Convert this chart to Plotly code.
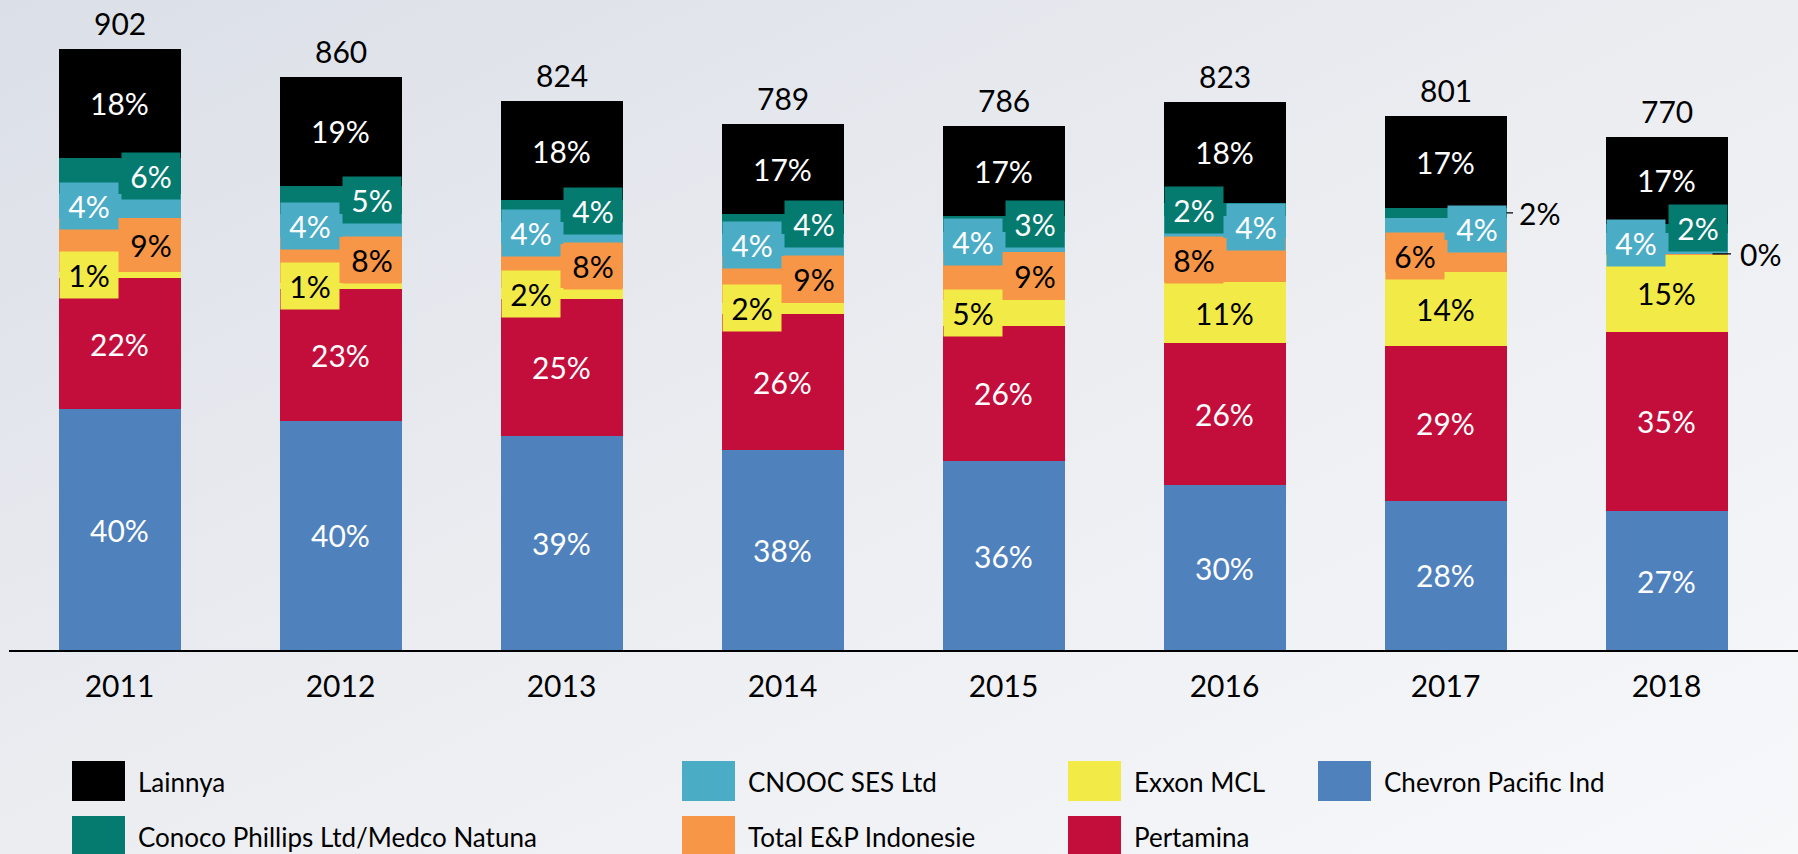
import base64
import plotly.graph_objects as go

# ---------------- data ----------------
years = ["2011", "2012", "2013", "2014", "2015", "2016", "2017", "2018"]
chevron = [361, 344, 321, 300, 283, 247, 224, 208]
pertamina = [198, 198, 206, 205, 204, 214, 232, 270]
exxon = [9, 9, 16, 16, 39, 91, 112, 116]
total_ep = [81, 69, 66, 71, 71, 66, 48, 1]
cnooc = [36, 34, 33, 32, 31, 33, 32, 31]
conoco = [54, 43, 33, 31, 24, 20, 16, 14]
lainnya = [163, 163, 149, 134, 134, 152, 137, 130]

series_names = ["Chevron Pacific Ind", "Pertamina", "Exxon MCL", "Total E&P Indonesie",
                "CNOOC SES Ltd", "Conoco Phillips Ltd/Medco Natuna", "Lainnya"]
series_values = [chevron, pertamina, exxon, total_ep, cnooc, conoco, lainnya]

# ---------------- style ----------------
colors = ["#4F81BD", "#C30E3C", "#F2EB47", "#F79646", "#4BACC6", "#057A6F", "#000000"]
text_colors = ["white", "white", "black", "black", "white", "white", "white"]
# label placement per series per year: c=centered, L=left box, R=right box, O=outside w/ leader
placement = [
    ["c"] * 8,
    ["c"] * 8,
    ["L", "L", "L", "L", "L", "c", "c", "c"],
    ["R", "R", "R", "R", "R", "L", "L", "O"],
    ["L", "L", "L", "L", "L", "R", "R", "L"],
    ["R", "R", "R", "R", "R", "L", "O", "R"],
    ["c"] * 8,
]
FONT = "Lato, 'Open Sans', sans-serif"
W, H = 1798, 854
ML, MR, MT, MB = 9, 0, 17, 204
PW, PH = W - ML - MR, H - MT - MB
CAT_PX = 221.0
BARGAP = 0.448
YMAX = PH / 0.6663

def px_x(px):
    return (px - ML) / PW

def px_y(py):
    return (H - MB - py) / PH

fig = go.Figure()
for name, vals, col in zip(series_names, series_values, colors):
    fig.add_trace(go.Bar(x=years, y=vals, name=name, marker=dict(color=col, line=dict(width=0)),
                         hovertemplate="%{x}: %{y}<extra>" + name + "</extra>"))

totals = [sum(s[i] for s in series_values) for i in range(len(years))]
annotations = []
half_bar = (1 - BARGAP) / 2
for i, yr in enumerate(years):
    base = 0
    T = totals[i]
    for s, vals in enumerate(series_values):
        v = vals[i]
        yc = base + v / 2
        base += v
        pct = f"{int(v / T * 100 + 0.5)}%"
        mode = placement[s][i]
        fnt = dict(family=FONT, size=30, color=text_colors[s])
        if mode == "c":
            annotations.append(dict(x=i, y=yc, text=pct, showarrow=False, font=fnt,
                                    xref="x", yref="y"))
        elif mode in ("L", "R"):
            annotations.append(dict(x=i, y=yc, text=pct, showarrow=False, font=fnt,
                                    xref="x", yref="y", bgcolor=colors[s],
                                    width=54, height=42, borderpad=2,
                                    xshift=-31 if mode == "L" else 31))
        else:
            shift = -15 if s == 3 else 0
            pad = 8 if s == 3 else 5
            annotations.append(dict(x=i + half_bar, y=yc, text=pct, showarrow=True,
                                    arrowhead=0, arrowwidth=1.2, arrowcolor="black",
                                    ax=32.5 - shift, ay=0, xshift=shift, borderpad=pad,
                                    font=dict(family=FONT, size=30, color="black"),
                                    xref="x", yref="y"))
    annotations.append(dict(x=i, y=T, text=str(T), showarrow=False, yshift=26,
                            font=dict(family=FONT, size=30, color="black"),
                            xref="x", yref="y"))

# custom legend (2 rows x 4 columns, column-major, top of stack first)
legend_order = [6, 5, 4, 3, 2, 1, 0]
col_left = [72, 682, 1068, 1318]
row_top = [761, 816]
shapes = []
for k, s in enumerate(legend_order):
    c, r = k // 2, k % 2
    x0, y0 = col_left[c], row_top[r]
    shapes.append(dict(type="rect", xref="paper", yref="paper",
                       x0=px_x(x0), x1=px_x(x0 + 53), y0=px_y(y0 + 40), y1=px_y(y0),
                       fillcolor=colors[s], line=dict(width=0)))
    annotations.append(dict(xref="paper", yref="paper", x=px_x(x0 + 64), y=px_y(y0 + 21),
                            xanchor="left", yanchor="middle", text=series_names[s],
                            showarrow=False, font=dict(family=FONT, size=26, color="black")))

svg = (f'<svg xmlns="http://www.w3.org/2000/svg" width="{W}" height="{H}">'
       '<defs><linearGradient id="g" x1="0" y1="0" x2="1" y2="1">'
       '<stop offset="0" stop-color="#dbdfe7"/><stop offset="0.5" stop-color="#ebedf1"/>'
       '<stop offset="1" stop-color="#f7f8fa"/></linearGradient></defs>'
       f'<rect width="{W}" height="{H}" fill="url(#g)"/></svg>')
bg_src = "data:image/svg+xml;base64," + base64.b64encode(svg.encode()).decode()

fig.update_layout(
    width=W, height=H, barmode="stack", bargap=BARGAP,
    margin=dict(l=ML, r=MR, t=MT, b=MB, pad=0),
    paper_bgcolor="#eceef2", plot_bgcolor="rgba(0,0,0,0)",
    showlegend=False,
    font=dict(family=FONT, size=30, color="black"),
    xaxis=dict(type="category", range=[-0.5, -0.5 + PW / CAT_PX], showline=True,
               linecolor="black", linewidth=2, showgrid=False, zeroline=False,
               ticks="", ticklabelstandoff=9,
               tickfont=dict(family=FONT, size=30, color="black")),
    yaxis=dict(range=[0, YMAX], visible=False, showgrid=False, zeroline=False),
    annotations=annotations, shapes=shapes,
    images=[dict(source=bg_src, xref="paper", yref="paper", x=px_x(0), y=px_y(0),
                 sizex=W / PW, sizey=H / PH, sizing="stretch", xanchor="left",
                 yanchor="top", layer="below")],
)

fig.write_html("out.html", config={"displayModeBar": False},
               post_script="document.body.style.margin='0';")
